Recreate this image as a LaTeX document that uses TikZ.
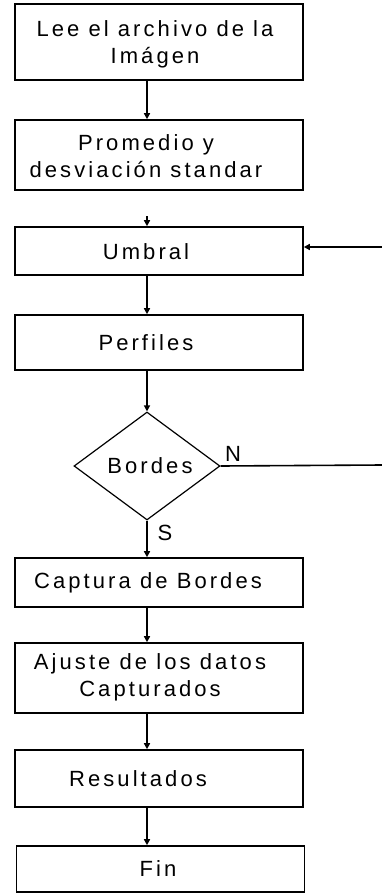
\documentclass[tikz,border=0pt]{standalone}
\usepackage{fontspec}
\setmainfont[LetterSpace=14]{Liberation Sans}
\usetikzlibrary{arrows.meta,shapes.geometric,positioning}

\begin{document}
\begin{tikzpicture}[>={Triangle[length=6pt,width=6pt]}, x=1pt, y=-1pt,
  box/.style={draw, line width=1.6pt, minimum width=288pt, inner sep=0pt},
  txt/.style={inner sep=0pt, align=center, font=\fontsize{22}{27}\selectfont},
  flow/.style={->, line width=1.6pt}]
  \useasboundingbox (0,0) rectangle (382,894);
  \coordinate (spine) at (147,0);

  % boxes of the main column
  \node[box, minimum height=76pt] (lee) at (159,42) {};
  \node[box, minimum height=70pt] (prom) at (159,155) {};
  \node[box, minimum height=48pt] (umbral) at (159,251) {};
  \node[box, minimum height=55pt] (perf) at (159,342.5) {};
  \node[draw, diamond, line width=1.2pt, minimum width=146pt, minimum height=108pt,
    inner sep=0pt] (bordes) at (147,466) {};
  \node[box, minimum height=49pt] (capt) at (159,582.5) {};
  \node[box, minimum height=70pt] (ajuste) at (159,678) {};
  \node[box, minimum height=57pt] (res) at (159,778.5) {};
  \node[box, minimum height=46pt] (fin) at (160.5,869) {};

  % texts, set a little left of the box centres
  \node[txt] (leetxt) at (155,44) {Lee el archivo de la\\Imágen};
  \node[txt] (promtxt) at (146,156) {Promedio y\\desviación standar};
  \node[txt] (umbraltxt) at (146,252) {Umbral};
  \node[txt] (perftxt) at (146,343) {Perfiles};
  \node[txt] (bordestxt) at (150,466) {Bordes};
  \node[txt] (capttxt) at (148,583) {Captura de Bordes};
  \node[txt] (ajustetxt) at (150,677) {Ajuste de los datos\\Capturados};
  \node[txt] (restxt) at (138,779) {Resultados};
  \node[txt] (fintxt) at (158,869) {Fin};

  % loop ends at the right edge
  \coordinate (loopin) at (382,247);
  \coordinate (loopout) at (382,465);
  \coordinate (gap) at (147,216);

  \draw[flow] (lee.south -| spine) -- (prom.north -| spine);
  \draw[flow] (gap) -- (gap |- umbral.north);
  \draw[flow] (loopin) -- (loopin -| umbral.east);
  \draw[flow] (umbral.south -| spine) -- (perf.north -| spine);
  \draw[flow] (perf.south -| spine) -- (bordes.north);
  \draw[line width=1.6pt] (bordes.east) -- (loopout);
  \draw[flow] (bordes.south) -- (capt.north -| spine);
  \draw[flow] (capt.south -| spine) -- (ajuste.north -| spine);
  \draw[flow] (ajuste.south -| spine) -- (res.north -| spine);
  \draw[flow] (res.south -| spine) -- (fin.north -| spine);

  \node[txt] (no) at (233,454) {N};
  \node[txt] (si) at (165,533) {S};
\end{tikzpicture}
\end{document}
